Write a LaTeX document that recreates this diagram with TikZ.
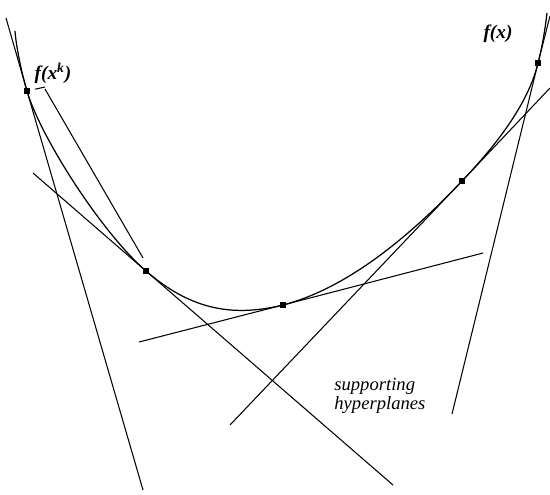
\documentclass[tikz,border=0pt]{standalone}
\usepackage{fontspec}
\setmainfont{Liberation Serif}
\usepackage{tikz}

\begin{document}
\begin{tikzpicture}[
    x=0.02cm, y=-0.02cm,
    touch/.style={rectangle, fill=black, inner sep=0pt, minimum size=3.2pt},
    plane/.style={line width=0.6pt},
    fcurve/.style={line width=0.7pt},
    flabel/.style={font=\fontsize{11}{13}\selectfont\bfseries\itshape, inner sep=0pt},
    note/.style={font=\fontsize{10.6}{10.8}\selectfont\itshape, align=left, inner sep=0pt}
]
\useasboundingbox (0,0) rectangle (550,494);

\node[touch] (sup1) at (27,91) {};
\node[touch] (sup2) at (146,271) {};
\node[touch] (sup3) at (283,305) {};
\node[touch] (sup4) at (462,181) {};
\node[touch] (sup5) at (538,63) {};

\node[flabel] (fx) at (498,34) {f(x)};
\node[flabel] (fxk) at (53,73) {f(x\textsuperscript{k})};
\node[note, anchor=west] (planes) at (334,396) {supporting\\hyperplanes};

\coordinate (ftop) at (15,31);
\coordinate (fend) at (547,13);
\coordinate (lead) at (45,87);
\coordinate (a1) at (6,18);
\coordinate (a2) at (143,490);
\coordinate (b1) at (45,89);
\coordinate (b2) at (143,258);
\coordinate (c1) at (33,173);
\coordinate (c2) at (393,485);
\coordinate (d1) at (139,342);
\coordinate (d2) at (483,253);
\coordinate (e1) at (230,425);
\coordinate (e2) at (550,88);
\coordinate (g1) at (452,414);
\coordinate (g2) at (550,16);

\draw[fcurve] (ftop) .. controls (16,45) and (21,71) .. (sup1.center)
    .. controls (40,136) and (101,232) .. (sup2.center)
    .. controls (189,308) and (230,318) .. (sup3.center)
    .. controls (337,291) and (397,250) .. (sup4.center)
    .. controls (505,136) and (530,97) .. (sup5.center)
    .. controls (542,48) and (545,30) .. (fend);

\draw[plane] (a1) -- (sup1.center) -- (a2);
\draw[plane] (b1) -- (b2);
\draw[plane] (c1) -- (sup2.center) -- (c2);
\draw[plane] (d1) -- (sup3.center) -- (d2);
\draw[plane] (e1) -- (sup4.center) -- (e2);
\draw[plane] (g1) -- (sup5.center) -- (g2);
\draw[plane, shorten <=2.8pt] (sup1) -- (lead);

\end{tikzpicture}
\end{document}
